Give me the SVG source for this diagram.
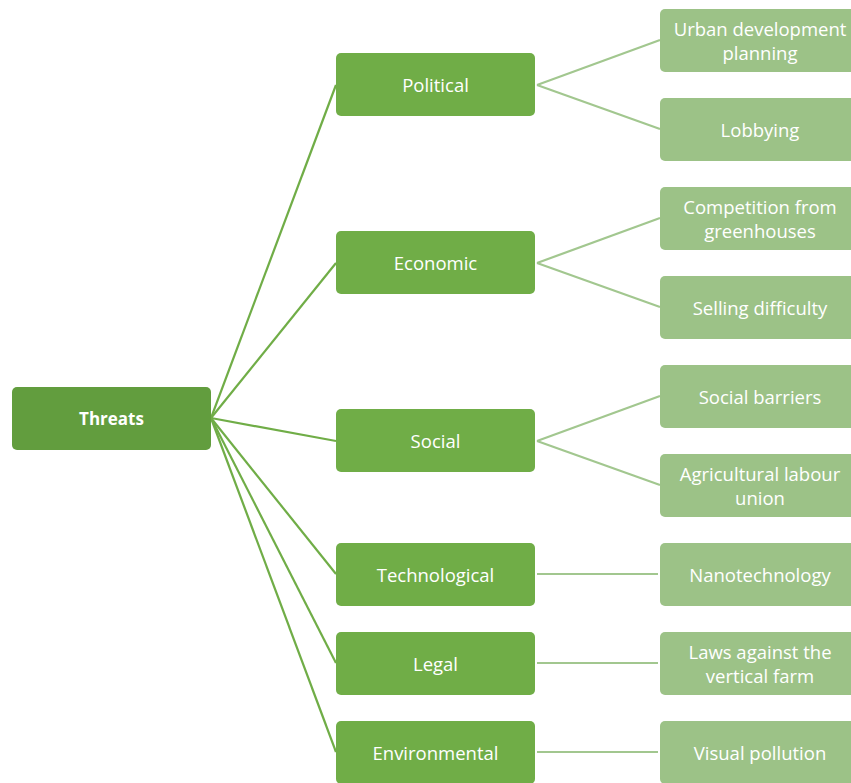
<svg xmlns="http://www.w3.org/2000/svg" width="851" height="783" viewBox="0 0 851 783">
<style>
.root rect{fill:#629D3E}
.l1 rect{fill:#70AD47}
.l2 rect{fill:#9CC287}
text{font-family:"Open Sans","Liberation Sans",sans-serif;font-size:18.5px;fill:#fff;text-anchor:middle;dominant-baseline:central}
.root text{font-weight:bold;font-size:17px}
.c1 line{stroke:#70AD47;stroke-width:2.2}
.c2 line{stroke:#A2C78F;stroke-width:2.2}
</style>
<rect width="851" height="783" fill="#fff"/>
<g id="connectors">
<g class="c1">
<line x1="211" y1="418" x2="336" y2="85"/>
<line x1="211" y1="418" x2="336" y2="263"/>
<line x1="211" y1="418" x2="336" y2="441"/>
<line x1="211" y1="418" x2="336" y2="574"/>
<line x1="211" y1="418" x2="336" y2="663"/>
<line x1="211" y1="418" x2="336" y2="752"/>
</g>
<g class="c2">
<line x1="537" y1="85" x2="660" y2="40"/>
<line x1="537" y1="85" x2="660" y2="129"/>
<line x1="537" y1="263" x2="660" y2="218"/>
<line x1="537" y1="263" x2="660" y2="307"/>
<line x1="537" y1="441" x2="660" y2="396"/>
<line x1="537" y1="441" x2="660" y2="485"/>
<line x1="537" y1="574" x2="658" y2="574"/>
<line x1="537" y1="663" x2="658" y2="663"/>
<line x1="537" y1="752" x2="658" y2="752"/>
</g>
</g>
<g id="threats" class="root"><rect x="12" y="387" width="199" height="63" rx="5"/><text x="111.5" y="418.5">Threats</text></g>
<g id="political" class="l1"><rect x="336" y="53" width="199" height="63" rx="5"/><text x="435.5" y="84.5">Political</text></g>
<g id="economic" class="l1"><rect x="336" y="231" width="199" height="63" rx="5"/><text x="435.5" y="262.5">Economic</text></g>
<g id="social" class="l1"><rect x="336" y="409" width="199" height="63" rx="5"/><text x="435.5" y="440.5">Social</text></g>
<g id="technological" class="l1"><rect x="336" y="543" width="199" height="63" rx="5"/><text x="435.5" y="574.5">Technological</text></g>
<g id="legal" class="l1"><rect x="336" y="632" width="199" height="63" rx="5"/><text x="435.5" y="663.5">Legal</text></g>
<g id="environmental" class="l1"><rect x="336" y="721" width="199" height="63" rx="5"/><text x="435.5" y="752.5">Environmental</text></g>
<g id="urban" class="l2"><rect x="660" y="9" width="199" height="63" rx="5"/><text x="760" y="28.5">Urban development</text><text x="760" y="52.5">planning</text></g>
<g id="lobbying" class="l2"><rect x="660" y="98" width="199" height="63" rx="5"/><text x="760" y="129.5">Lobbying</text></g>
<g id="competition" class="l2"><rect x="660" y="187" width="199" height="63" rx="5"/><text x="760" y="206.5">Competition from</text><text x="760" y="230.5">greenhouses</text></g>
<g id="selling" class="l2"><rect x="660" y="276" width="199" height="63" rx="5"/><text x="760" y="307.5">Selling difficulty</text></g>
<g id="barriers" class="l2"><rect x="660" y="365" width="199" height="63" rx="5"/><text x="760" y="396.5">Social barriers</text></g>
<g id="union" class="l2"><rect x="660" y="454" width="199" height="63" rx="5"/><text x="760" y="473.5">Agricultural labour</text><text x="760" y="497.5">union</text></g>
<g id="nano" class="l2"><rect x="660" y="543" width="199" height="63" rx="5"/><text x="760" y="574.5">Nanotechnology</text></g>
<g id="laws" class="l2"><rect x="660" y="632" width="199" height="63" rx="5"/><text x="760" y="651.5">Laws against the</text><text x="760" y="675.5">vertical farm</text></g>
<g id="visual" class="l2"><rect x="660" y="721" width="199" height="63" rx="5"/><text x="760" y="752.5">Visual pollution</text></g>
</svg>
